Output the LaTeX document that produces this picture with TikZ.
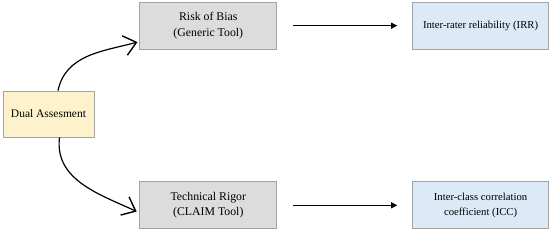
\documentclass[tikz,border=0pt]{standalone}
\usepackage{fontspec}
\setmainfont{Liberation Serif}
\usepackage{xcolor}
\usetikzlibrary{arrows.meta,positioning,calc}
\definecolor{dualfill}{HTML}{FEF2CD}
\definecolor{toolfill}{HTML}{DCDCDC}
\definecolor{metricfill}{HTML}{DCEAF7}
\definecolor{boxline}{HTML}{A3A3A3}

\begin{document}
\begin{tikzpicture}[>={Triangle[length=6pt,width=6pt]},
  box/.style={draw=boxline,line width=0.8pt,align=center,inner sep=2pt,
    minimum height=47pt,font=\fontsize{11.8}{15.5}\selectfont},
  tool/.style={box,fill=toolfill,minimum width=137pt},
  metric/.style={box,fill=metricfill,minimum width=136pt,
    font=\fontsize{10.7}{15}\selectfont},
  curvelink/.style={line width=1.2pt,-{Straight Barb[length=12pt,width=20pt,line width=1.4pt]}}]
  \node[box,fill=dualfill,minimum width=91pt,minimum height=46pt,
    font=\fontsize{11.5}{14}\selectfont] (dual) {Dual Assesment};
  \node[tool,above right=41pt and 45pt of dual] (risk) {Risk of Bias\\(Generic Tool)};
  \node[tool,below right=44pt and 45pt of dual] (rigor) {Technical Rigor\\(CLAIM Tool)};
  \node[metric,right=135pt of risk] (irr) {Inter-rater reliability (IRR)};
  \node[metric,right=135pt of rigor] (icc) {Inter-class correlation\\coefficient (ICC)};
  % curved links out of the dual box
  \draw[curvelink,shorten >=2pt] ([xshift=9.5pt]dual.north) to[out=78,in=195] ([yshift=8pt]risk.south west);
  \draw[curvelink,shorten >=3pt] ([xshift=11pt]dual.south) to[out=-97,in=155] ([yshift=-7.5pt]rigor.west);
  % straight links to the agreement measures
  \draw[->,line width=1.2pt,shorten <=16pt,shorten >=15pt] (risk) -- (irr);
  \draw[->,line width=1.2pt,shorten <=16pt,shorten >=15pt] (rigor) -- (icc);
  \useasboundingbox ($(dual.center)+(-48.5pt,114pt)$) rectangle ++(550pt,-233pt);
\end{tikzpicture}
\end{document}
